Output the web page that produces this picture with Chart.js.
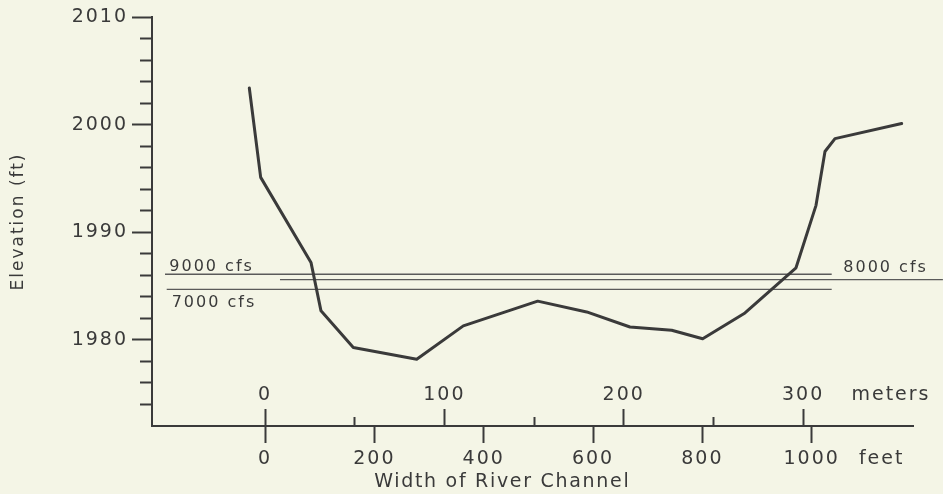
<!DOCTYPE html>
<html>
<head>
<meta charset="utf-8">
<script src="https://cdn.jsdelivr.net/npm/chart.js@4.4.1/dist/chart.umd.min.js"></script>
<style>
  html, body { margin: 0; padding: 0; background: #f4f5e6; }
  canvas { display: block; }
</style>
</head>
<body>
<canvas id="chart" width="943" height="494"></canvas>
<script>
// ---------------- data ----------------
const profileFeet = [-28.7, -7.9, 84.1, 102.4, 161.5, 277.5, 362.7, 498.8, 588.4, 667.6, 743.9, 800.6, 878.0, 971.3, 1007.9, 1024.3, 1042.6, 1164.6];
const profileElev = [2003.4, 1995.1, 1987.2, 1982.7, 1979.3, 1978.2, 1981.3, 1983.6, 1982.6, 1981.2, 1980.9, 1980.1, 1982.5, 1986.7, 1992.5, 1997.5, 1998.7, 2000.1];

const flowNames     = ['9000 cfs', '8000 cfs', '7000 cfs'];
const flowElev      = [1986.1, 1985.6, 1984.7];
const flowStartFeet = [-182.9, 27.4, -179.8];
const flowEndFeet   = [1036.6, 1240.0, 1036.6];

const elevMajorTicks = [1980, 1990, 2000, 2010];
const elevMinorTicks = [1974, 1976, 1978, 1982, 1984, 1986, 1988, 1992, 1994, 1996, 1998, 2002, 2004, 2006, 2008];
const feetTicks  = [0, 200, 400, 600, 800, 1000];
const meterTicks = [0, 100, 200, 300];
const meterMinorTicks = [50, 150, 250];

const yTitle = 'Elevation (ft)';
const xTitle = 'Width of River Channel';
const feetUnit = 'feet';
const meterUnit = 'meters';

// ---------------- layout / style ----------------
const X_MIN = -206.7, X_MAX = 1185.3;         // feet
const FT_TO_M = 0.3048;
const Y_MIN = 1972, Y_MAX = 2010;
const FEET_UNIT_AT = 1128;                     // feet position of "feet" label
const METER_UNIT_AT = 349;                     // meter position of "meters" label
const INK = '#3a3a3a';
const BG = '#f4f5e6';
const FONT = 'DejaVu Sans';
const SPACING = '2px';

// label anchors (data coords) for the discharge labels
const flowLabelAnchor = [
  { x: -175.1, y: 1986.75 },
  { x: 1057.8, y: 1986.70 },
  { x: -170.7, y: 1983.40 }
];
const xTitleAnchorFeet = 434;

const datasets = [{
  label: 'profile',
  data: profileFeet.map((f, i) => ({ x: f, y: profileElev[i] })),
  borderColor: INK,
  borderWidth: 3,
  pointRadius: 0,
  tension: 0,
  borderJoinStyle: 'round',
  borderCapStyle: 'round',
  xAxisID: 'x', yAxisID: 'y'
}];
flowNames.forEach((n, i) => {
  datasets.push({
    label: n,
    data: [{ x: flowStartFeet[i], y: flowElev[i] }, { x: flowEndFeet[i], y: flowElev[i] }],
    borderColor: '#5a5a5a',
    borderWidth: 1.3,
    pointRadius: 0,
    clip: false,
    xAxisID: 'x', yAxisID: 'y'
  });
});

const spacingPlugin = {
  id: 'spacing',
  beforeUpdate(chart) { chart.ctx.letterSpacing = SPACING; },
  beforeLayout(chart) { chart.ctx.letterSpacing = SPACING; },
  beforeDraw(chart) {
    const ctx = chart.ctx;
    ctx.save();
    ctx.fillStyle = BG;
    ctx.fillRect(0, 0, chart.width, chart.height);
    ctx.restore();
    ctx.letterSpacing = SPACING;
  }
};

const textPlugin = {
  id: 'texts',
  afterDraw(chart) {
    const ctx = chart.ctx;
    const xs = chart.scales.x, ys = chart.scales.y;
    ctx.save();
    ctx.letterSpacing = SPACING;
    ctx.fillStyle = INK;
    ctx.textBaseline = 'middle';
    ctx.textAlign = 'left';
    ctx.font = '16px "' + FONT + '"';
    flowNames.forEach((n, i) => {
      ctx.fillText(n, xs.getPixelForValue(flowLabelAnchor[i].x), ys.getPixelForValue(flowLabelAnchor[i].y));
    });
    ctx.textAlign = 'center';
    ctx.letterSpacing = '1.7px';
    ctx.font = '19px "' + FONT + '"';
    ctx.fillText(xTitle, xs.getPixelForValue(xTitleAnchorFeet), xs.bottom - 12);
    ctx.restore();
  }
};

const tickFont = { family: FONT, size: 19 };

new Chart(document.getElementById('chart'), {
  type: 'line',
  data: { datasets },
  plugins: [spacingPlugin, textPlugin],
  options: {
    responsive: false,
    animation: false,
    devicePixelRatio: 1,
    layout: { padding: { left: 0, top: 17, right: 30, bottom: 0 } },
    plugins: { legend: { display: false }, tooltip: { enabled: false } },
    scales: {
      x: {
        type: 'linear', position: 'bottom', min: X_MIN, max: X_MAX,
        afterBuildTicks: s => { s.ticks = feetTicks.concat([FEET_UNIT_AT]).map(v => ({ value: v })); },
        afterFit: s => { s.height = 68; },
        grid: {
          drawOnChartArea: false, drawTicks: true, tickLength: 17, tickWidth: 2,
          tickColor: c => (c.tick && c.tick.value === FEET_UNIT_AT) ? 'rgba(0,0,0,0)' : INK
        },
        border: { display: true, color: INK, width: 2 },
        ticks: {
          autoSkip: false, maxRotation: 0, color: INK, font: tickFont, padding: 5,
          callback: v => v === FEET_UNIT_AT ? feetUnit : String(v)
        }
      },
      xm: {
        type: 'linear', position: { y: Y_MIN },
        min: X_MIN * FT_TO_M, max: X_MAX * FT_TO_M,
        afterBuildTicks: s => { s.ticks = meterTicks.concat([METER_UNIT_AT]).map(v => ({ value: v })); },
        grid: {
          drawOnChartArea: false, drawTicks: true, tickLength: -17, tickWidth: 2,
          tickColor: c => (c.tick && c.tick.value === METER_UNIT_AT) ? 'rgba(0,0,0,0)' : INK
        },
        border: { display: false },
        ticks: {
          autoSkip: false, maxRotation: 0, color: INK, font: tickFont, padding: -25,
          callback: v => v === METER_UNIT_AT ? meterUnit : String(v)
        }
      },
      xm2: {
        type: 'linear', position: { y: Y_MIN },
        min: X_MIN * FT_TO_M, max: X_MAX * FT_TO_M,
        afterBuildTicks: s => { s.ticks = meterMinorTicks.map(v => ({ value: v })); },
        grid: { drawOnChartArea: false, drawTicks: true, tickLength: -9, tickWidth: 2, tickColor: INK },
        border: { display: false },
        ticks: { display: false, autoSkip: false }
      },
      y: {
        type: 'linear', position: 'left', min: Y_MIN, max: Y_MAX,
        afterBuildTicks: s => { s.ticks = elevMajorTicks.map(v => ({ value: v })); },
        afterFit: s => { s.width = 152; },
        grid: { drawOnChartArea: false, drawTicks: true, tickLength: 20, tickWidth: 2, tickColor: INK },
        border: { display: true, color: INK, width: 2 },
        ticks: { autoSkip: false, color: INK, font: tickFont, padding: 4, callback: v => String(v) },
        title: {
          display: true, text: yTitle, color: INK,
          font: { family: FONT, size: 17 }, padding: { top: 8, bottom: 0 }
        }
      },
      y2: {
        type: 'linear', position: { x: X_MIN }, min: Y_MIN, max: Y_MAX,
        afterBuildTicks: s => { s.ticks = elevMinorTicks.map(v => ({ value: v })); },
        grid: { drawOnChartArea: false, drawTicks: true, tickLength: 12, tickWidth: 2, tickColor: INK },
        border: { display: false },
        ticks: { display: false, autoSkip: false }
      }
    }
  }
});
</script>
</body>
</html>
